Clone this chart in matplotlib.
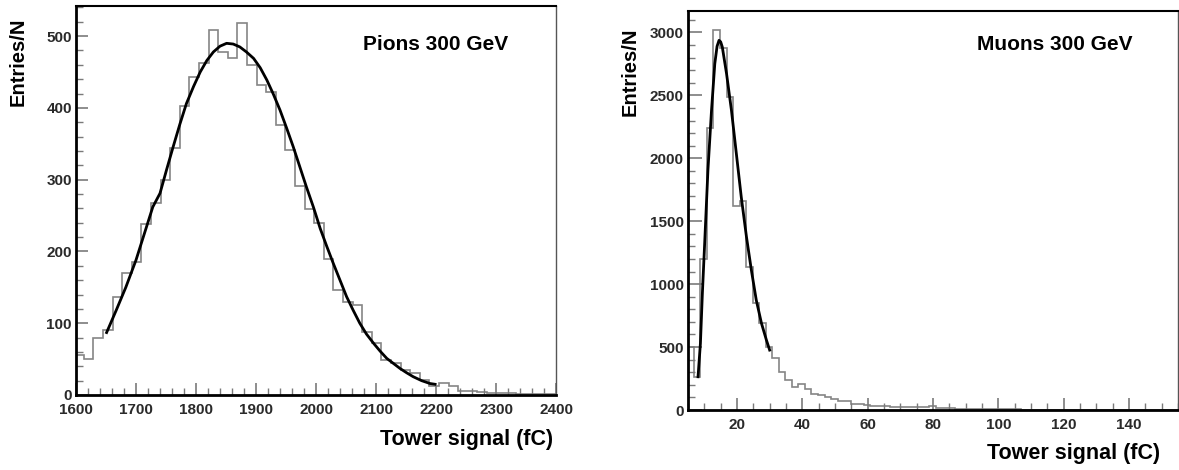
import matplotlib
matplotlib.use("Agg")
import matplotlib.pyplot as plt
from matplotlib.ticker import MultipleLocator

plt.rcParams['font.family'] = ['Liberation Sans', 'DejaVu Sans']

# ---------------- Data: pions ----------------
pion_edge_start = 1597
pion_bin_width = 16
pion_counts = [56, 50, 80, 90, 136, 170, 185, 238, 267, 299,
               344, 403, 443, 462, 509, 478, 470, 518, 460, 432,
               422, 376, 341, 291, 259, 240, 190, 146, 130, 125,
               88, 72, 49, 44, 35, 30, 21, 13, 17, 12.5,
               6, 6, 4.6, 3, 3, 3, 2, 1.5, 1, 1.5, 2]
pion_fit_x = [1651, 1667, 1683, 1700, 1714, 1728, 1740, 1751, 1762, 1773,
              1784, 1796, 1807, 1818, 1829, 1840, 1851, 1862, 1873, 1884,
              1896, 1907, 1918, 1929, 1940, 1951, 1962, 1973, 1984, 1996,
              2007, 2018, 2029, 2040, 2051, 2062, 2073, 2084, 2096, 2107,
              2118, 2129, 2140, 2151, 2162, 2176, 2190, 2198]
pion_fit_y = [87, 118, 150, 188, 225, 262, 281, 314, 346, 377,
              406, 430, 450, 466, 478, 486, 490, 489, 485, 478,
              469, 456, 439, 419, 397, 372, 346, 318, 290, 261,
              232, 207, 183, 160, 137, 118, 100, 85, 72, 61,
              51, 44, 37, 31, 25.5, 20, 16, 15]

# ---------------- Data: muons ----------------
muon_edge_start = 4.8
muon_bin_width = 2
muon_counts = [500, 260, 1200, 2240, 3020, 2880, 2490, 1620, 1660, 1140,
               850, 690, 500, 410, 300, 240, 180, 205, 165, 130,
               120, 105, 85, 75, 70, 50, 48, 40, 32, 30,
               28, 27, 26, 25, 24, 22, 20, 30, 15, 14,
               12, 10, 9, 8, 7, 6, 6, 8, 5, 4,
               4, 3, 3, 3, 3, 2, 2, 2, 3, 2,
               2, 2, 1, 1, 2, 1, 1, 1, 1, 1,
               1, 2, 1, 1, 1, 1]
muon_fit_x = [8.07, 8.8, 9.4, 10.1, 11.1, 12.2, 13.2, 13.9, 14.5, 15.0, 15.5, 16.8,
              18.3, 19.8, 21.3, 22.9, 24.4, 25.9, 27.5, 29.0, 30.0]
muon_fit_y = [264, 529, 926, 1323, 1905, 2381, 2751, 2890, 2937, 2925, 2884, 2672,
              2381, 2037, 1693, 1375, 1111, 873, 688, 556, 476]

pion_edges = [pion_edge_start + pion_bin_width * i for i in range(len(pion_counts) + 1)]
muon_edges = [muon_edge_start + muon_bin_width * i for i in range(len(muon_counts) + 1)]

W, H = 1179, 470
fig = plt.figure(figsize=(W / 100, H / 100), dpi=100)

def box(x0, x1, ytop, ybot):
    return [x0 / W, 1 - ybot / H, (x1 - x0) / W, (ybot - ytop) / H]

ax1 = fig.add_axes(box(76, 556, 6, 395))
ax2 = fig.add_axes(box(688, 1178, 11, 410))

hist_color = '#858585'
tick_color = '#7a7a7a'
lab_color = '#2a2a2a'

def style(ax, xmaj, xmin, ymaj, ymin, ymajlen, xpad):
    ax.xaxis.set_major_locator(MultipleLocator(xmaj))
    ax.xaxis.set_minor_locator(MultipleLocator(xmin))
    ax.yaxis.set_major_locator(MultipleLocator(ymaj))
    ax.yaxis.set_minor_locator(MultipleLocator(ymin))
    ax.tick_params(axis='both', which='both', direction='in', color=tick_color,
                   labelcolor=lab_color, top=False, right=False)
    ax.tick_params(axis='x', which='major', length=8.5, width=1.2, pad=xpad, labelsize=11)
    ax.tick_params(axis='x', which='minor', length=5, width=1.0)
    ax.tick_params(axis='y', which='major', length=ymajlen, width=1.2, pad=3, labelsize=11)
    ax.tick_params(axis='y', which='minor', length=5, width=1.0)
    for lbl in ax.get_xticklabels() + ax.get_yticklabels():
        lbl.set_fontweight('bold')
    ax.spines['left'].set_linewidth(2)
    ax.spines['bottom'].set_linewidth(2)
    ax.spines['top'].set_linewidth(1.5)
    ax.spines['right'].set_linewidth(1.0)
    ax.spines['right'].set_color('#555555')

# Left: pions
ax1.stairs(pion_counts, pion_edges, color=hist_color, linewidth=1.2)
ax1.plot(pion_fit_x, pion_fit_y, color='black', linewidth=2.0)
ax1.set_xlim(1600, 2400)
ax1.set_ylim(0, 542)
style(ax1, 100, 20, 100, 20, 8.5, 6)
fig.text(363 / W, 1 - 45 / H, 'Pions 300 GeV', fontsize=15, fontweight='bold',
         ha='left', va='center')
fig.text(553 / W, 1 - 439 / H, 'Tower signal (fC)', fontsize=15.5, fontweight='bold',
         ha='right', va='center')
fig.text(18 / W, 1 - 62 / H, 'Entries/N', fontsize=14.5, fontweight='bold',
         ha='center', va='center', rotation=90)

# Right: muons
ax2.stairs(muon_counts, muon_edges, color=hist_color, linewidth=1.2)
ax2.plot(muon_fit_x, muon_fit_y, color='black', linewidth=2.0)
ax2.set_xlim(5, 155)
ax2.set_ylim(0, 3170)
style(ax2, 20, 5, 500, 100, 10, 6)
fig.text(977 / W, 1 - 45 / H, 'Muons 300 GeV', fontsize=15, fontweight='bold',
         ha='left', va='center')
fig.text(1160 / W, 1 - 453 / H, 'Tower signal (fC)', fontsize=15.5, fontweight='bold',
         ha='right', va='center')
fig.text(630 / W, 1 - 72 / H, 'Entries/N', fontsize=14.5, fontweight='bold',
         ha='center', va='center', rotation=90)

fig.savefig('out.png', dpi=100)
